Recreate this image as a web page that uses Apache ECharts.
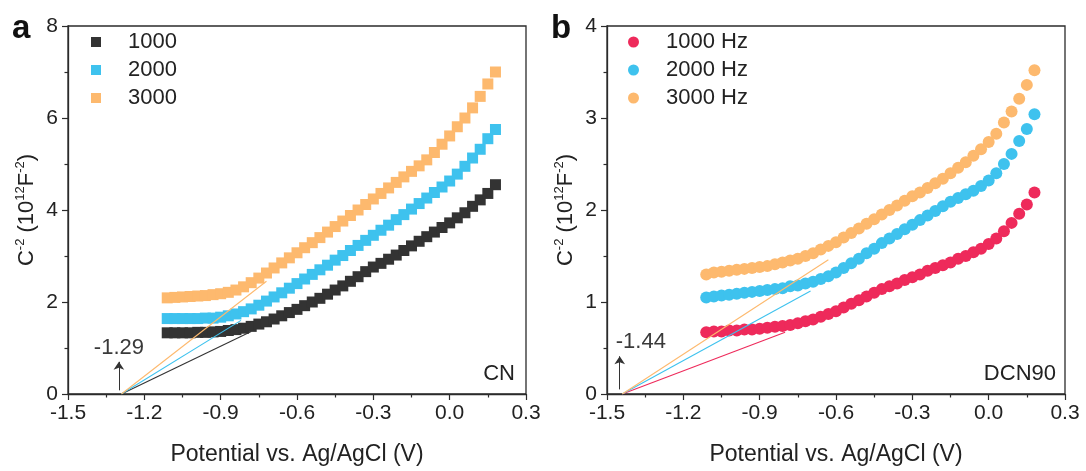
<!DOCTYPE html>
<html>
<head>
<meta charset="utf-8">
<script src="https://cdn.jsdelivr.net/npm/echarts@6/dist/echarts.min.js"></script>
<style>html,body{margin:0;padding:0;background:#fff;}#chart{width:1086px;height:471px;}</style>
</head>
<body>
<div id="chart"></div>
<script>
// ---- data ----
const potential = [-1.11,-1.08,-1.05,-1.02,-0.99,-0.96,-0.93,-0.90,-0.87,-0.84,-0.81,-0.78,-0.75,-0.72,-0.69,-0.66,-0.63,-0.60,-0.57,-0.54,-0.51,-0.48,-0.45,-0.42,-0.39,-0.36,-0.33,-0.30,-0.27,-0.24,-0.21,-0.18,-0.15,-0.12,-0.09,-0.06,-0.03,0.00,0.03,0.06,0.09,0.12,0.15,0.18];
const cn1000 = [1.33,1.33,1.33,1.33,1.34,1.34,1.35,1.36,1.38,1.40,1.43,1.47,1.52,1.57,1.63,1.70,1.77,1.84,1.92,2.00,2.08,2.17,2.26,2.35,2.45,2.55,2.66,2.76,2.84,2.93,3.02,3.12,3.22,3.32,3.42,3.52,3.62,3.72,3.83,3.94,4.08,4.22,4.36,4.55];
const cn2000 = [1.64,1.64,1.64,1.64,1.64,1.65,1.65,1.67,1.70,1.74,1.79,1.85,1.93,2.02,2.11,2.20,2.30,2.40,2.50,2.60,2.70,2.80,2.91,3.01,3.12,3.23,3.34,3.45,3.56,3.67,3.79,3.90,4.02,4.14,4.26,4.38,4.50,4.63,4.78,4.95,5.13,5.32,5.55,5.75];
const cn3000 = [2.09,2.10,2.11,2.12,2.13,2.14,2.16,2.18,2.21,2.26,2.33,2.42,2.52,2.63,2.74,2.85,2.96,3.07,3.18,3.29,3.40,3.52,3.64,3.76,3.88,4.00,4.12,4.24,4.36,4.48,4.60,4.72,4.84,4.96,5.09,5.25,5.43,5.61,5.81,6.00,6.22,6.47,6.74,7.00];
const dcn1000 = [0.67,0.68,0.68,0.69,0.69,0.70,0.70,0.71,0.72,0.73,0.74,0.75,0.77,0.79,0.81,0.84,0.87,0.90,0.94,0.98,1.02,1.06,1.10,1.14,1.17,1.20,1.24,1.27,1.30,1.34,1.37,1.40,1.43,1.47,1.50,1.54,1.58,1.63,1.69,1.77,1.86,1.96,2.06,2.19];
const dcn2000 = [1.05,1.06,1.07,1.08,1.09,1.10,1.11,1.12,1.13,1.14,1.15,1.17,1.18,1.20,1.22,1.25,1.28,1.32,1.37,1.42,1.47,1.53,1.58,1.64,1.69,1.74,1.79,1.84,1.89,1.94,1.99,2.04,2.09,2.13,2.17,2.21,2.26,2.32,2.40,2.50,2.61,2.75,2.88,3.04];
const dcn3000 = [1.30,1.32,1.33,1.34,1.35,1.36,1.37,1.38,1.39,1.41,1.43,1.45,1.47,1.50,1.53,1.57,1.61,1.65,1.70,1.75,1.80,1.85,1.90,1.95,2.00,2.05,2.10,2.15,2.19,2.24,2.29,2.34,2.40,2.46,2.52,2.59,2.66,2.74,2.83,2.95,3.07,3.21,3.36,3.52];
const cnFit1000 = [[-1.29, 0], [-0.78, 1.36]];
const cnFit2000 = [[-1.29, 0], [-0.82, 1.60]];
const cnFit3000 = [[-1.29, 0], [-0.72, 2.45]];
const dcnFit1000 = [[-1.44, 0], [-0.80, 0.67]];
const dcnFit2000 = [[-1.44, 0], [-0.70, 1.12]];
const dcnFit3000 = [[-1.44, 0], [-0.63, 1.46]];
const cnArrow = [[-1.30, 0.08], [-1.30, 0.70]];
const dcnArrow = [[-1.45, 0.05], [-1.45, 0.41]];
const cnArrowLabel = '-1.29';
const dcnArrowLabel = '-1.44';
const xTicks = [-1.5, -1.2, -0.9, -0.6, -0.3, 0.0, 0.3];
const xTickLabels = ['-1.5', '-1.2', '-0.9', '-0.6', '-0.3', '0.0', '0.3'];
const cnLegend = ['1000', '2000', '3000'];
const dcnLegend = ['1000 Hz', '2000 Hz', '3000 Hz'];

// ---- styles ----
const FONT = '"Liberation Sans", Arial, sans-serif';
const AX = '#2b2b2b';
const TXT = '#222';
const cBlack = '#333333', cBlue = '#3EC2EE', cOrange = '#FDB96E', cRed = '#EE2A5B';

function zip(xs, ys) { return xs.map((x, i) => [x, ys[i]]); }
function xLabel(v) {
  for (let i = 0; i < xTicks.length; i++) if (Math.abs(v - xTicks[i]) < 1e-6) return xTickLabels[i];
  return '';
}
const yName = '{m|C}{s|-2}{m| (10}{s|12}{m|F}{s|-2}{m|)}';
const yRich = {
  m: {fontSize: 22, fontFamily: FONT, color: TXT, lineHeight: 24, verticalAlign: 'bottom'},
  s: {fontSize: 13, fontFamily: FONT, color: TXT, lineHeight: 24, verticalAlign: 'top'}
};

function xAxisCfg(gi) {
  return {
    gridIndex: gi, type: 'value', min: -1.5, max: 0.3, interval: 0.3,
    name: 'Potential vs. Ag/AgCl (V)', nameLocation: 'middle', nameGap: 49,
    nameTextStyle: {fontSize: 23, fontFamily: FONT, color: TXT},
    axisLine: {show: true, onZero: false, lineStyle: {color: AX, width: 1.3}},
    axisTick: {show: true, inside: false, length: 6, lineStyle: {color: AX, width: 1.2}},
    minorTick: {show: true, splitNumber: 2, length: 3.5, lineStyle: {color: AX, width: 1.2}},
    axisLabel: {fontSize: 21, fontFamily: FONT, color: TXT, margin: 9, formatter: xLabel},
    splitLine: {show: false}
  };
}
function yAxisCfg(gi, max, interval) {
  return {
    gridIndex: gi, type: 'value', min: 0, max: max, interval: interval,
    name: yName, nameLocation: 'middle', nameGap: 30, nameRotate: 90,
    nameTextStyle: {rich: yRich},
    axisLine: {show: true, onZero: false, lineStyle: {color: AX, width: 1.3}},
    axisTick: {show: true, inside: false, length: 6, lineStyle: {color: AX, width: 1.2}},
    minorTick: {show: true, splitNumber: 2, length: 3.5, lineStyle: {color: AX, width: 1.2}},
    axisLabel: {fontSize: 21, fontFamily: FONT, color: TXT, margin: 10},
    splitLine: {show: false}
  };
}
function scatter(name, gi, ys, color, symbol, size) {
  return {
    name: name, type: 'scatter', xAxisIndex: gi, yAxisIndex: gi,
    data: zip(potential, ys), symbol: symbol, symbolSize: size,
    itemStyle: {color: color, opacity: 1}, silent: true, z: 2
  };
}
function fit(gi, data, color) {
  return {
    type: 'line', xAxisIndex: gi, yAxisIndex: gi, data: data, symbol: 'none',
    lineStyle: {color: color, width: 1.1}, silent: true, z: 4, animation: false
  };
}
function arrow(gi, data, label, align, offset) {
  return {
    type: 'line', xAxisIndex: gi, yAxisIndex: gi, data: [], symbol: 'none', silent: true, z: 5,
    markLine: {
      silent: true, animation: false, symbol: ['none', 'arrow'], symbolSize: 8,
      lineStyle: {color: '#333', width: 1, type: 'solid'},
      label: {show: true, position: 'end', formatter: label, fontSize: 22, fontFamily: FONT,
              color: '#3a3a3a', distance: 3, align: align, offset: offset},
      data: [[{coord: data[0]}, {coord: data[1]}]]
    }
  };
}

const grids = [
  {left: 68, top: 26, width: 458, height: 370, show: true, borderColor: AX, borderWidth: 1.3, backgroundColor: 'transparent'},
  {left: 607, top: 26, width: 458, height: 370, show: true, borderColor: AX, borderWidth: 1.3, backgroundColor: 'transparent'}
];

const option = {
  animation: false,
  backgroundColor: '#fff',
  grid: grids,
  xAxis: [xAxisCfg(0), xAxisCfg(1)],
  yAxis: [yAxisCfg(0, 8, 2), yAxisCfg(1, 4, 1)],
  legend: [
    {data: cnLegend, orient: 'vertical', left: 91, top: 31, padding: 0, itemGap: 6,
     itemWidth: 10, itemHeight: 10, icon: 'rect', selectedMode: false,
     textStyle: {fontSize: 22, fontFamily: FONT, color: TXT, lineHeight: 22, padding: [0, 0, 0, 22]}},
    {data: dcnLegend, orient: 'vertical', left: 628, top: 31, padding: 0, itemGap: 6,
     itemWidth: 11, itemHeight: 11, icon: 'circle', selectedMode: false,
     textStyle: {fontSize: 22, fontFamily: FONT, color: TXT, lineHeight: 22, padding: [0, 0, 0, 22]}}
  ],
  series: [
    scatter(cnLegend[0], 0, cn1000, cBlack, 'rect', 11),
    scatter(cnLegend[1], 0, cn2000, cBlue, 'rect', 11),
    scatter(cnLegend[2], 0, cn3000, cOrange, 'rect', 11),
    fit(0, cnFit1000, cBlack),
    fit(0, cnFit2000, cBlue),
    fit(0, cnFit3000, cOrange),
    arrow(0, cnArrow, cnArrowLabel, 'center', [0, 0]),
    scatter(dcnLegend[0], 1, dcn1000, cRed, 'circle', 12),
    scatter(dcnLegend[1], 1, dcn2000, cBlue, 'circle', 12),
    scatter(dcnLegend[2], 1, dcn3000, cOrange, 'circle', 12),
    fit(1, dcnFit1000, cRed),
    fit(1, dcnFit2000, cBlue),
    fit(1, dcnFit3000, cOrange),
    arrow(1, dcnArrow, dcnArrowLabel, 'left', [-4, 0])
  ],
  graphic: [
    {type: 'text', x: 12, y: 29, silent: true,
     style: {text: 'a', font: 'bold 33px ' + FONT, fill: '#111', textAlign: 'left', textVerticalAlign: 'middle', align: 'left', verticalAlign: 'middle'}},
    {type: 'text', x: 551, y: 29, silent: true,
     style: {text: 'b', font: 'bold 33px ' + FONT, fill: '#111', textAlign: 'left', textVerticalAlign: 'middle', align: 'left', verticalAlign: 'middle'}},
    {type: 'text', x: 515, y: 385, silent: true,
     style: {text: 'CN', font: '22px ' + FONT, fill: TXT, textAlign: 'right', textVerticalAlign: 'bottom', align: 'right', verticalAlign: 'bottom'}},
    {type: 'text', x: 1056, y: 385, silent: true,
     style: {text: 'DCN90', font: '22px ' + FONT, fill: TXT, textAlign: 'right', textVerticalAlign: 'bottom', align: 'right', verticalAlign: 'bottom'}}
  ]
};

const chart = echarts.init(document.getElementById('chart'), null, {renderer: 'canvas'});
chart.setOption(option);
</script>
</body>
</html>
